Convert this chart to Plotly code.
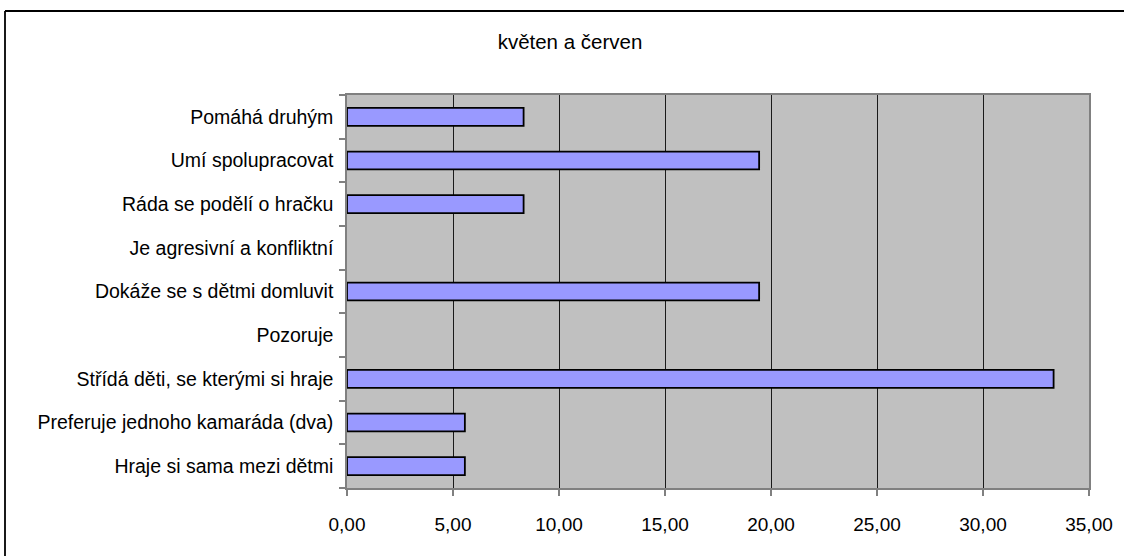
import plotly.graph_objects as go

categories = [
    "Hraje si sama mezi dětmi",
    "Preferuje jednoho kamaráda (dva)",
    "Střídá děti, se kterými si hraje",
    "Pozoruje",
    "Dokáže se s dětmi domluvit",
    "Je agresivní a konfliktní",
    "Ráda se podělí o hračku",
    "Umí spolupracovat",
    "Pomáhá druhým",
]
values = [5.56, 5.56, 33.33, 0, 19.44, 0, 8.33, 19.44, 8.33]
tick_vals = [0, 5, 10, 15, 20, 25, 30, 35]
tick_text = ["0,00", "5,00", "10,00", "15,00", "20,00", "25,00", "30,00", "35,00"]
title_text = "květen a červen"

W, H = 1124, 556
L, T = 347, 95
R = 1124 - 1089
B = 556 - 488
pw, ph = W - L - R, H - T - B

FONT = "Liberation Sans, Arial, sans-serif"

fig = go.Figure()
fig.add_trace(go.Bar(
    x=values, y=categories, orientation="h",
    marker=dict(color="#9999FF",
                line=dict(color="black", width=[0 if v == 0 else 1.8 for v in values])),
    hoverinfo="skip",
))

fig.update_layout(
    width=W, height=H,
    margin=dict(l=L, r=R, t=T, b=B, autoexpand=False),
    paper_bgcolor="white",
    plot_bgcolor="#C0C0C0",
    bargap=0.59,
    showlegend=False,
    font=dict(family=FONT, size=19.5, color="black"),
    title=dict(text=title_text, x=570 / W, y=1 - 42 / H,
               xanchor="center", yanchor="middle",
               font=dict(family=FONT, size=20.5, color="black")),
    xaxis=dict(range=[0, 35], tickvals=tick_vals, ticktext=tick_text,
               showgrid=True, gridcolor="#1a1a1a", gridwidth=1,
               showline=True, linecolor="#808080", linewidth=1.5, mirror=True,
               ticks="outside", ticklen=6, tickcolor="#808080", tickwidth=1.5,
               ticklabelstandoff=12, zeroline=False,
               tickfont=dict(family=FONT, size=19)),
    yaxis=dict(showgrid=False, showline=True, linecolor="#808080", linewidth=1.5, mirror=True,
               ticks="outside", ticklen=6, tickcolor="#808080", tickwidth=1.5,
               tickson="boundaries", ticklabelstandoff=8,
               tickfont=dict(family=FONT, size=19.5)),
)

# outer chart border: only top and left edges lie inside the picture
bx0 = (5 - L) / pw
by1 = 1 + (T - 11) / ph
fig.add_shape(type="line", xref="paper", yref="paper",
              x0=bx0, x1=(W + 20 - L) / pw, y0=by1, y1=by1,
              line=dict(color="black", width=1.8), layer="below")
fig.add_shape(type="line", xref="paper", yref="paper",
              x0=bx0, x1=bx0, y0=-(B + 20) / ph, y1=by1,
              line=dict(color="black", width=1.8), layer="below")

fig.write_html("out.html", config={"displayModeBar": False},
               post_script="document.body.style.margin='0';document.body.style.overflow='hidden';")
